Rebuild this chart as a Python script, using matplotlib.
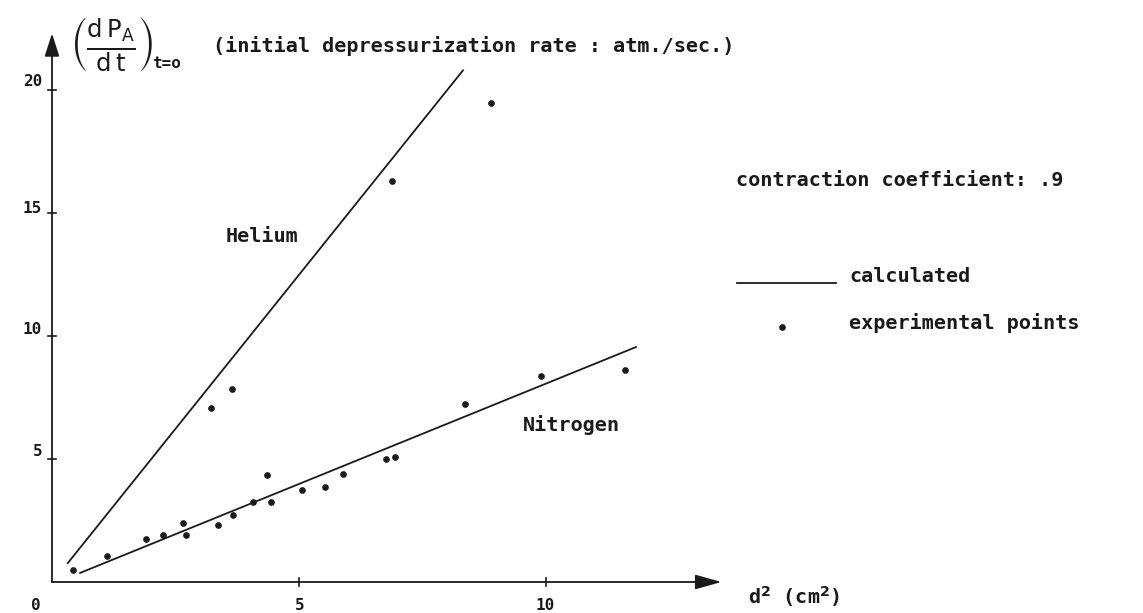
import matplotlib
matplotlib.use("Agg")
import matplotlib.pyplot as plt

# ---- data ----
helium_x = [3.22, 3.64, 6.88, 8.89]
helium_y = [7.07, 7.85, 16.3, 19.47]
nitrogen_x = [0.43, 1.11, 1.90, 2.24, 2.66, 2.71, 3.37, 3.66, 4.07, 4.35, 4.43,
              5.06, 5.53, 5.90, 6.76, 6.94, 8.36, 9.90, 11.6]
nitrogen_y = [0.49, 1.06, 1.75, 1.91, 2.40, 1.91, 2.32, 2.72, 3.25, 4.35, 3.25,
              3.74, 3.86, 4.39, 5.00, 5.08, 7.24, 8.37, 8.62]
helium_calc_x = [0.32, 8.32]
helium_calc_y = [0.77, 20.8]
nitrogen_calc_x = [0.57, 11.82]
nitrogen_calc_y = [0.37, 9.55]
x_ticks = [5, 10]
y_ticks = [5, 10, 15, 20]

W, H = 1143, 613
fig = plt.figure(figsize=(W / 100, H / 100), dpi=100)
fig.patch.set_facecolor("white")

ox, oy = 52, 582          # pixel position of origin
xmax, ymax = 13.6, 22.4
xpu, ypu = 49.4, 24.6
ax = fig.add_axes([ox / W, (H - oy) / H, xmax * xpu / W, ymax * ypu / H])
ax.set_xlim(0, xmax)
ax.set_ylim(0, ymax)
ax.axis("off")

ink = "#1a1a1a"
mono = "DejaVu Sans Mono"

def px(x, y):
    return x / W, 1 - y / H

# axes with arrows
ax.annotate("", xy=(13.55, 0), xytext=(0, 0), annotation_clip=False,
            arrowprops=dict(arrowstyle="-|>,head_length=1.6,head_width=0.45",
                            color=ink, lw=1.3, shrinkA=0, shrinkB=0))
ax.annotate("", xy=(0, 22.3), xytext=(0, 0), annotation_clip=False,
            arrowprops=dict(arrowstyle="-|>,head_length=1.4,head_width=0.45",
                            color=ink, lw=1.3, shrinkA=0, shrinkB=0))

# tick marks
for t in x_ticks:
    ax.plot([t, t], [-0.18, 0.18], color=ink, lw=1.2, clip_on=False)
for t in y_ticks:
    ax.plot([-0.08, 0.08], [t, t], color=ink, lw=1.2, clip_on=False)

# calculated lines
ax.plot(helium_calc_x, helium_calc_y, color=ink, lw=1.3, clip_on=False)
ax.plot(nitrogen_calc_x, nitrogen_calc_y, color=ink, lw=1.3, clip_on=False)

# experimental points
ax.plot(helium_x, helium_y, "o", color=ink, ms=3.8, clip_on=False)
ax.plot(nitrogen_x, nitrogen_y, "o", color=ink, ms=3.8, clip_on=False)

fs = 14.5
tfs = 11.5
kw = dict(family=mono, color=ink, fontweight="bold")
# tick labels
fig.text(*px(36, 605), "0", fontsize=tfs, ha="center", va="center", **kw)
fig.text(*px(300, 605), "5", fontsize=tfs, ha="center", va="center", **kw)
fig.text(*px(545, 605), "10", fontsize=tfs, ha="center", va="center", **kw)
for t, yy in zip(y_ticks, [452, 330, 209, 82]):
    fig.text(*px(42, yy), str(t), fontsize=tfs, ha="right", va="center", **kw)

# y-axis label
fig.text(*px(70, 44), r"$\left(\frac{\mathsf{d\,P_A}}{\mathsf{d\,t}}\right)$",
         fontsize=25, color=ink, ha="left", va="center")
fig.text(*px(152, 63), "t=o", fontsize=11.5, ha="left", va="center", **kw)
fig.text(*px(213, 46), "(initial depressurization rate : atm./sec.)",
         fontsize=fs, ha="left", va="center", **kw)

# x-axis label
fig.text(*px(748, 597), r"d$^{\mathbf{2}}$ (cm$^{\mathbf{2}}$)", fontsize=fs,
         ha="left", va="center", **kw)

# annotations
fig.text(*px(226, 236), "Helium", fontsize=fs, ha="left", va="center", **kw)
fig.text(*px(523, 425), "Nitrogen", fontsize=fs, ha="left", va="center", **kw)
fig.text(*px(736, 181), "contraction coefficient: .9", fontsize=fs,
         ha="left", va="center", **kw)

# legend
fig.lines.append(plt.Line2D([737 / W, 836 / W], [1 - 283 / H, 1 - 283 / H],
                            transform=fig.transFigure, color=ink, lw=1.3))
fig.text(*px(849, 276), "calculated", fontsize=fs, ha="left", va="center", **kw)
fig.lines.append(plt.Line2D([782 / W], [1 - 327 / H], marker="o", ms=3.8,
                            transform=fig.transFigure, color=ink, lw=0))
fig.text(*px(849, 323), "experimental points", fontsize=fs, ha="left", va="center", **kw)

fig.savefig("out.png", dpi=100)
